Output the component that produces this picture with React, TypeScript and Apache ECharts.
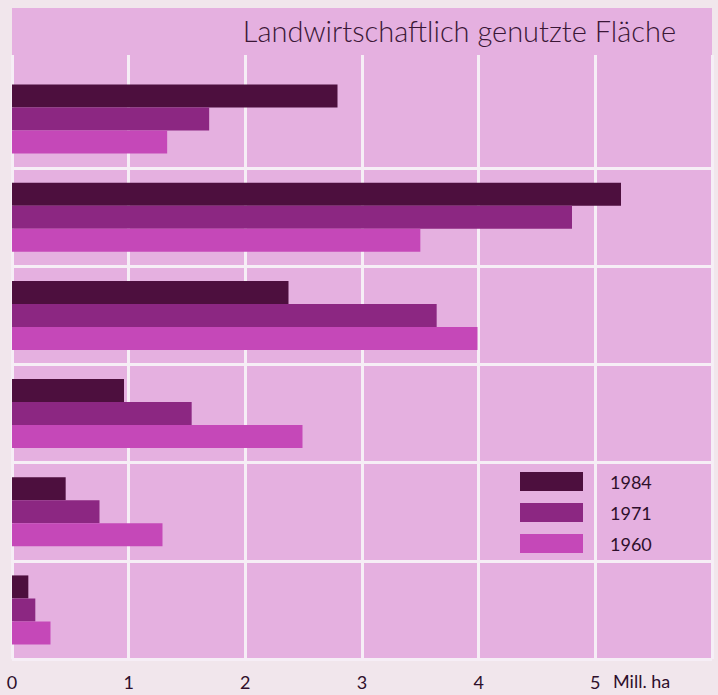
import React, { useEffect, useRef } from "react";
import * as echarts from "echarts";

const title = "Landwirtschaftlich genutzte Fläche";
const unitLabel = "Mill. ha";
const categories = ["Gruppe 1", "Gruppe 2", "Gruppe 3", "Gruppe 4", "Gruppe 5", "Gruppe 6"];
const years = ["1984", "1971", "1960"];
const values1984 = [2.79, 5.22, 2.37, 0.96, 0.46, 0.14];
const values1971 = [1.69, 4.8, 3.64, 1.54, 0.75, 0.2];
const values1960 = [1.33, 3.5, 3.99, 2.49, 1.29, 0.33];
const xMax = 6;
const xLabelMax = 5;

const PINK = "#e5b0e0";
const GRIDLINE = "#f6eef6";
const TEXT = "#2e0f2b";
const COLORS = ["#4d0f3e", "#8c2782", "#c548b8"];

export default function App() {
  const ref = useRef<HTMLDivElement>(null);
  useEffect(() => {
    if (!ref.current) return;
    const chart = echarts.init(ref.current, undefined, { renderer: "svg" });
    const seriesValues = [values1984, values1971, values1960];
    chart.setOption({
      animation: false,
      backgroundColor: "#f1e6ec",
      title: {
        text: title,
        right: 42,
        top: 16,
        padding: 0,
        textStyle: { fontFamily: "Lato", fontSize: 29, fontWeight: 300, color: "#3a1736" },
      },
      graphic: [
        { type: "rect", left: 12, top: 8, shape: { width: 700, height: 47 }, style: { fill: PINK }, silent: true },
        {
          type: "text",
          left: 613,
          top: 672,
          style: { text: unitLabel, font: "18px Lato", fill: TEXT },
        },
      ],
      legend: {
        data: years,
        orient: "vertical",
        left: 520,
        top: 472,
        padding: 0,
        itemWidth: 63,
        itemHeight: 19,
        itemGap: 12,
        icon: "rect",
        textStyle: { fontFamily: "Lato", fontSize: 18, color: TEXT, padding: [0, 0, 0, 22] },
      },
      grid: [
        { left: 12, right: 6, top: 70, bottom: 36, show: true, backgroundColor: PINK, borderWidth: 0 },
        { left: 12, right: 6, top: 55, height: 15, show: true, backgroundColor: PINK, borderWidth: 0 },
      ],
      xAxis: [
        {
          type: "value",
          gridIndex: 0,
          min: 0,
          max: xMax,
          interval: 1,
          axisLine: { show: false },
          axisTick: { show: false },
          splitLine: { show: true, lineStyle: { color: GRIDLINE, width: 3 } },
          axisLabel: {
            margin: 14,
            fontFamily: "Lato",
            fontSize: 18,
            color: TEXT,
            formatter: (v: number) => (v <= xLabelMax ? String(v) : ""),
          },
        },
        {
          type: "value",
          gridIndex: 1,
          min: 0,
          max: xMax,
          interval: 1,
          axisLine: { show: false },
          axisTick: { show: false },
          axisLabel: { show: false },
          splitLine: { show: true, lineStyle: { color: GRIDLINE, width: 3 } },
        },
      ],
      yAxis: [
        {
          type: "category",
          gridIndex: 0,
          data: categories,
          inverse: true,
          axisLine: { show: false },
          axisTick: { show: false },
          axisLabel: { show: false },
          splitLine: {
            show: true,
            interval: (i: number) => i !== 0,
            lineStyle: { color: GRIDLINE, width: 3 },
          },
        },
        {
          type: "category",
          gridIndex: 1,
          data: [""],
          axisLine: { show: false },
          axisTick: { show: false },
          axisLabel: { show: false },
          splitLine: { show: false },
        },
      ],
      series: [
        ...years.map((y, i) => ({
          name: y,
          type: "bar",
          xAxisIndex: 0,
          yAxisIndex: 0,
          data: seriesValues[i],
          barWidth: 23,
          barGap: "0%",
          itemStyle: { color: COLORS[i] },
        })),
        { type: "bar", xAxisIndex: 1, yAxisIndex: 1, data: [], silent: true },
      ],
    });
    return () => chart.dispose();
  }, []);
  return <div ref={ref} style={{ position: "absolute", left: 0, top: 0, width: 718, height: 695 }} />;
}
